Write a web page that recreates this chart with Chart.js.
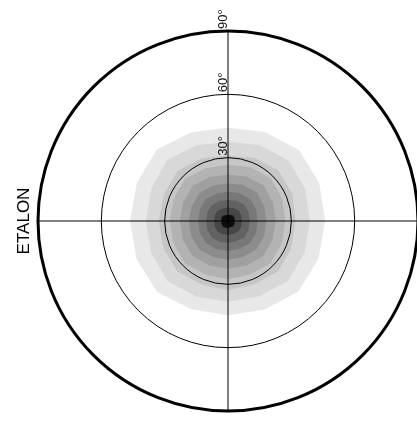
<!DOCTYPE html>
<html>
<head>
<meta charset="utf-8">
<title>ETALON</title>
<script src="https://cdn.jsdelivr.net/npm/chart.js@4.4.1/dist/chart.umd.min.js"></script>
<style>
  html, body { margin: 0; padding: 0; overflow: hidden; background: #fff; }
  #wrap { width: 460px; height: 423px; }
</style>
</head>
<body>
<div id="wrap"><canvas id="polarChart"></canvas></div>
<script>
// azimuth directions, clockwise from top
const directions = ['N', 'NNE', 'NE', 'ENE', 'E', 'ESE', 'SE', 'SSE', 'S', 'SSW', 'SW', 'WSW', 'W', 'WNW', 'NW', 'NNW'];

// contour boundaries (zenith angle, degrees), outermost level first
const level1 = [44.2, 45.6, 47.6, 46.8, 46.0, 46.4, 47.2, 45.4, 44.6, 45.2, 47.5, 46.9, 46.4, 46.8, 47.8, 45.5];
const level2 = [37.5, 39.0, 40.6, 39.6, 38.8, 39.2, 40.2, 38.6, 38.2, 38.8, 40.4, 39.4, 38.9, 39.4, 40.8, 38.8];
const level3 = [31.0, 32.4, 33.8, 33.0, 32.0, 32.6, 33.6, 32.4, 32.8, 32.6, 33.9, 33.2, 32.8, 32.9, 33.7, 32.2];
const level4 = [26.6, 27.6, 28.6, 27.8, 27.2, 27.6, 28.4, 27.4, 27.6, 27.6, 28.6, 28.0, 27.6, 27.8, 28.5, 27.2];
const level5 = [22.0, 22.8, 23.8, 23.0, 22.6, 22.8, 23.6, 22.8, 22.6, 22.8, 23.6, 23.2, 22.8, 23.0, 23.6, 22.6];
const level6 = [17.8, 18.4, 19.2, 18.6, 18.2, 18.6, 19.0, 18.4, 18.4, 18.4, 19.2, 18.8, 18.6, 18.6, 19.0, 18.2];
const level7 = [13.8, 14.2, 14.8, 14.4, 14.0, 14.4, 14.8, 14.2, 14.2, 14.4, 14.8, 14.4, 14.2, 14.4, 14.8, 14.0];
const level8 = [10.0, 10.4, 11.0, 10.6, 10.4, 10.6, 11.0, 10.4, 10.4, 10.6, 11.0, 10.6, 10.4, 10.6, 10.8, 10.2];
const level9 = [6.4, 6.6, 7.0, 6.8, 6.6, 6.8, 7.0, 6.6, 6.6, 6.8, 7.0, 6.8, 6.6, 6.8, 7.0, 6.4];
const level10 = [3.0, 3.2, 3.6, 3.4, 3.2, 3.4, 3.6, 3.2, 3.2, 3.4, 3.6, 3.4, 3.2, 3.4, 3.6, 3.0];

const levelColors = ['#e8e8e8', '#d8d8d8', '#c6c6c6', '#b3b3b3', '#a0a0a0', '#8c8c8c', '#787878', '#626262', '#474747', '#0d0d0d'];

const ringValues = [30, 60, 90];
const ringLabels = ['30°', '60°', '90°'];
const chartTitle = 'ETALON';

const levels = [level1, level2, level3, level4, level5, level6, level7, level8, level9, level10];

// Chart.js draws dataset 0 last, so put the innermost level first
const datasets = levels.map((vals, i) => ({
    data: vals,
    backgroundColor: levelColors[i],
    borderWidth: 0,
    pointRadius: 0,
    fill: 'origin'
})).reverse();

const overlay = {
    id: 'overlay',
    afterDraw(chart) {
        const c = chart.ctx;
        const r = chart.scales.r;
        c.save();
        c.fillStyle = '#111';
        c.font = '13px "Liberation Sans", Arial, sans-serif';
        c.textAlign = 'left';
        c.textBaseline = 'alphabetic';
        ringValues.forEach((v, i) => {
            const y = r.yCenter - r.getDistanceFromCenterForValue(v);
            c.save();
            c.translate(r.xCenter - 1, y - 2);
            c.rotate(-Math.PI / 2);
            c.fillText(ringLabels[i], 0, 0);
            c.restore();
        });
        c.fillStyle = '#000';
        c.font = '17px "Liberation Sans", Arial, sans-serif';
        c.textAlign = 'center';
        c.translate(29, r.yCenter);
        c.rotate(-Math.PI / 2);
        c.fillText(chartTitle, 0, 0);
        c.restore();
    }
};

new Chart(document.getElementById('polarChart'), {
    type: 'radar',
    data: {
        labels: directions,
        datasets: datasets
    },
    options: {
        responsive: true,
        maintainAspectRatio: false,
        animation: false,
        layout: {
            padding: { left: 38, right: 42, top: 31, bottom: 12 }
        },
        elements: {
            line: { tension: 0 }
        },
        plugins: {
            legend: { display: false },
            tooltip: { enabled: false }
        },
        scales: {
            r: {
                min: 0,
                max: 90,
                ticks: { stepSize: 30, display: false },
                pointLabels: { display: false },
                grid: {
                    circular: true,
                    z: 1,
                    color: '#000',
                    lineWidth: ctx => (ctx.tick && ctx.tick.value === 90 ? 3 : 1)
                },
                angleLines: {
                    color: ctx => (ctx.index % 4 === 0 ? '#000' : 'rgba(0,0,0,0)'),
                    lineWidth: 1
                }
            }
        }
    },
    plugins: [overlay]
});
</script>
</body>
</html>
